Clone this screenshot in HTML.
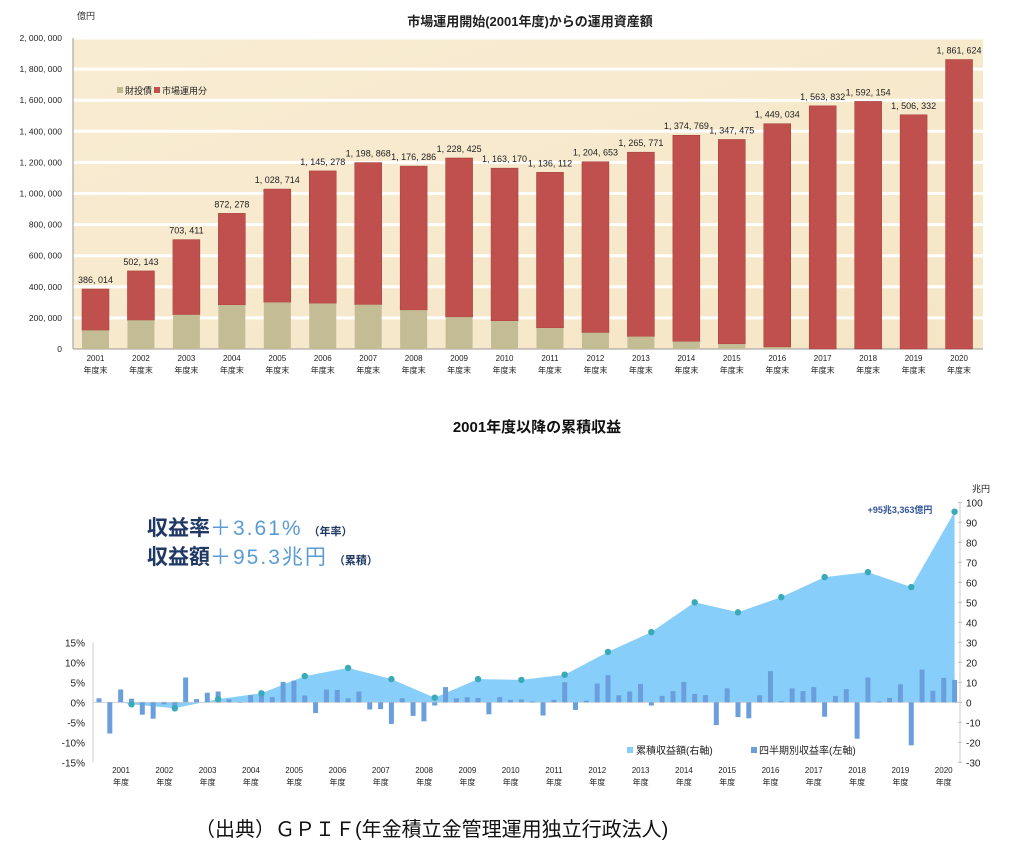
<!DOCTYPE html>
<html><head><meta charset="utf-8">
<style>
body{margin:0;background:#fff;width:1024px;height:847px;overflow:hidden;font-family:"Liberation Sans","Noto Sans CJK JP",sans-serif;}
svg{position:absolute;left:0;top:0}
text{font-family:"Liberation Sans","Noto Sans CJK JP",sans-serif}
</style></head>
<body>
<svg id="c" width="1024" height="847" viewBox="0 0 1024 847">
<defs>
<linearGradient id="bg" x1="0" y1="0" x2="1" y2="1"><stop offset="0" stop-color="#f8ecd3"/><stop offset="1" stop-color="#f5e6c6"/></linearGradient>
</defs>
<text x="530" y="26" text-anchor="middle" font-size="13" font-weight="bold" fill="#222">市場運用開始(2001年度)からの運用資産額</text>
<text x="77" y="19" font-size="9" fill="#333">億円</text>
<rect x="73" y="38" width="910" height="311" fill="url(#bg)"/>
<g id="topg"></g>
<g>
<rect x="117" y="87" width="6" height="6" fill="#c2b98e"/><text x="125" y="94" font-size="9" fill="#222">財投債</text>
<rect x="154" y="87" width="6" height="6" fill="#c0504d"/><text x="162" y="94" font-size="9" fill="#222">市場運用分</text>
</g>
<text x="537" y="432" text-anchor="middle" font-size="15" font-weight="bold" fill="#111">2001年度以降の累積収益</text>
<text x="147" y="535" font-size="21" font-weight="bold" fill="#1f3864">収益率<tspan fill="#5b9bd5" font-weight="normal" letter-spacing="2">＋3.61%</tspan><tspan font-size="11" dx="6">（年率）</tspan></text>
<text x="147" y="564" font-size="21" font-weight="bold" fill="#1f3864">収益額<tspan fill="#5b9bd5" font-weight="normal" letter-spacing="2">＋95.3兆円</tspan><tspan font-size="11" dx="6">（累積）</tspan></text>
<text x="900" y="513" text-anchor="middle" font-size="9" font-weight="bold" fill="#2f5597">+95兆3,363億円</text>
<text x="972" y="492" font-size="9" fill="#222">兆円</text>
<g id="bot"></g>
<g>
<rect x="627" y="747" width="6" height="6" fill="#87cefa"/><text x="636" y="754" font-size="10" fill="#222">累積収益額(右軸)</text>
<rect x="751" y="747" width="6" height="6" fill="#6a9fdc"/><text x="759" y="754" font-size="10" fill="#222">四半期別収益率(左軸)</text>
</g>
<text x="195" y="836" font-size="20" fill="#111">（出典）ＧＰＩＦ(年金積立金管理運用独立行政法人)</text>
</svg>
<script>
const years=[2001,2002,2003,2004,2005,2006,2007,2008,2009,2010,2011,2012,2013,2014,2015,2016,2017,2018,2019,2020];
const totalAssets=[386014,502143,703411,872278,1028714,1145278,1198868,1176286,1228425,1163170,1136112,1204653,1265771,1374769,1347475,1449034,1563832,1592154,1506332,1861624];
const fiscalBonds=[120000,185000,220000,283000,300000,293000,285000,250000,205000,180000,135000,105000,80000,48000,32000,12000,0,0,0,0];
const topTicks=[0,200000,400000,600000,800000,1000000,1200000,1400000,1600000,1800000,2000000];
const quarterlyReturn=[1.0,-7.8,3.2,0.9,-3.1,-4.1,-0.5,-1.3,6.2,0.8,2.4,2.7,0.75,-0.1,1.8,2.1,1.3,5.1,5.4,1.7,-2.7,3.2,3.1,1.0,2.7,-1.8,-1.7,-5.4,1.0,-3.4,-4.75,-0.8,3.8,1.0,1.25,1.1,-3.0,1.3,0.6,0.7,0.2,-3.3,0.6,5.0,-1.9,0.4,4.7,6.8,1.75,2.7,4.6,-0.8,1.6,2.8,5.1,2.1,1.8,-5.7,3.5,-3.7,-4.0,1.75,7.8,0.25,3.5,2.8,3.8,-3.6,1.6,3.3,-9.1,6.2,0.2,1.1,4.5,-10.75,8.2,2.9,6.1,5.6];
const cumulative=[-1.0,-3.0,1.6,4.5,13.1,17.2,11.6,2.3,11.6,11.2,13.8,25.2,35.1,50.0,45.0,52.6,62.6,65.1,57.6,95.3];
const leftTicks=[-15,-10,-5,0,5,10,15];
const rightTicks=[-30,-20,-10,0,10,20,30,40,50,60,70,80,90,100];
const NS='http://www.w3.org/2000/svg';
function mk(p,t,a){const e=document.createElementNS(NS,t);for(const k in a)e.setAttribute(k,a[k]);p.appendChild(e);return e;}
function fmt(v){return v.toLocaleString('en-US').replace(/,/g,', ');}
// top chart
const topG=document.getElementById('topg');
const ty=v=>349-v/2000000*311;
const tx=i=>95.5+i*45.45;
topTicks.forEach(v=>{
 if(v>0){const g=mk(topG,'line',{x1:73,x2:983,y1:ty(v),y2:ty(v),stroke:'#fff','stroke-width':3});
 
 }
 const t=mk(topG,'text',{x:62,y:ty(v)+3,'text-anchor':'end','font-size':8.5,fill:'#222'});t.textContent=fmt(v);
 
 
});
mk(topG,'line',{x1:73,x2:73,y1:38,y2:349,stroke:'#999'});
mk(topG,'line',{x1:73,x2:983,y1:349,y2:349,stroke:'#999'});
years.forEach((y,i)=>{
 const x=tx(i)-13.5;
 const r1=mk(topG,'rect',{x:x,y:ty(totalAssets[i]),width:27,height:ty(fiscalBonds[i])-ty(totalAssets[i]),fill:'#c0504d',stroke:'#a33c39','stroke-width':0.5});
 
 
 if(fiscalBonds[i]>0){const r2=mk(topG,'rect',{x:x,y:ty(fiscalBonds[i]),width:27,height:349-ty(fiscalBonds[i]),fill:'#c4bc94'});
 
 }
 const l=mk(topG,'text',{x:tx(i),y:ty(totalAssets[i])-6,'text-anchor':'middle','font-size':9,fill:'#222'});l.textContent=fmt(totalAssets[i]);
 
 
 const a=mk(topG,'text',{x:tx(i),y:361,'text-anchor':'middle','font-size':8,fill:'#222'});a.textContent=y;
 
 
 const b=mk(topG,'text',{x:tx(i),y:373,'text-anchor':'middle','font-size':8,fill:'#222'});b.textContent='年度末';
 
 
});
// bottom chart
const bot=document.getElementById('bot');
const zero=702.3;
const ly=v=>zero-v*4;
const ry=v=>zero-v*2;
const qx=i=>99+i*10.83;
leftTicks.forEach(v=>{const t=mk(bot,'text',{x:85,y:ly(v)+4,'text-anchor':'end','font-size':10,fill:'#222'});t.textContent=v+'%';
 
 });
rightTicks.forEach(v=>{const t=mk(bot,'text',{x:966,y:ry(v)+4,'font-size':10,fill:'#222'});t.textContent=v;
 
 
 mk(bot,'line',{x1:958,x2:962,y1:ry(v),y2:ry(v),stroke:'#bbb'});});
mk(bot,'line',{x1:93,x2:93,y1:ly(15),y2:ly(-15),stroke:'#ccc'});
mk(bot,'line',{x1:960,x2:960,y1:ry(100),y2:ry(-30),stroke:'#ccc'});
let pts=[];
cumulative.forEach((v,i)=>pts.push([qx(i*4+3),ry(v)]));
let d='M'+qx(2)+','+ry(0)+' '+pts.map(p=>'L'+p[0]+','+p[1]).join(' ')+' L'+qx(79)+','+ry(0)+' Z';
const area=mk(bot,'path',{d:d,fill:'#87cefa'});


mk(bot,'line',{x1:93,x2:958,y1:zero,y2:zero,stroke:'#ccc','stroke-width':0.8});
quarterlyReturn.forEach((v,i)=>{
 const r=mk(bot,'rect',{x:qx(i)-2.5,y:Math.min(ly(v),zero),width:5,height:Math.abs(ly(v)-zero),fill:'#6a9fdc'});
 
 
});
cumulative.forEach((v,i)=>{
 const c=mk(bot,'circle',{cx:qx(i*4+3),cy:ry(v),r:3.2,fill:'#3aa9b8'});
 
 
});
years.forEach((y,i)=>{
 const cx=121+i*43.3;
 const a=mk(bot,'text',{x:cx,y:773,'text-anchor':'middle','font-size':8,fill:'#222'});a.textContent=y;
 
 
 const b=mk(bot,'text',{x:cx,y:785,'text-anchor':'middle','font-size':8,fill:'#222'});b.textContent='年度';
 
 
});
</script>
</body></html>
